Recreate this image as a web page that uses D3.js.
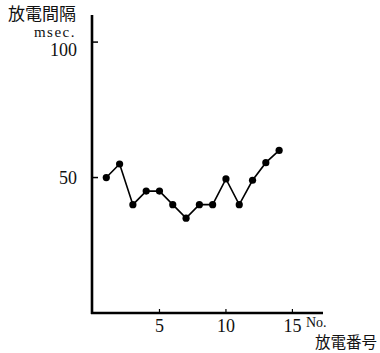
<!DOCTYPE html>
<html>
<head>
<meta charset="utf-8">
<script src="https://cdn.jsdelivr.net/npm/d3@7"></script>
<style>
  body { margin: 0; background: #fff; }
  text { fill: #111; }
  .num { font-family: "Liberation Serif", "DejaVu Serif", serif; font-size: 18px; }
  .jp { font-family: "Noto Sans CJK JP", sans-serif; font-size: 17px; }
</style>
</head>
<body>
<script>
// discharge number vs interval (msec)
var dischargeNo = [1, 2, 3, 4, 5, 6, 7, 8, 9, 10, 11, 12, 13, 14];
var intervalMs = [50, 55, 40, 45, 45, 40, 35, 40, 40, 49.5, 40, 49, 55.5, 60];
var xTicks = [5, 10, 15];
var yTicks = [50, 100];

var width = 380, height = 353;
var svg = d3.select("body").append("svg")
    .attr("width", width)
    .attr("height", height);

var x = d3.scaleLinear().domain([0, 17.3]).range([93, 323]);
var y = d3.scaleLinear().domain([0, 110]).range([313, 15]);

// axes lines
svg.append("line")
    .attr("x1", x(0) - 1).attr("x2", x(0) - 1)
    .attr("y1", y(110)).attr("y2", y(0) + 1)
    .attr("stroke", "#000").attr("stroke-width", 2.6);
svg.append("line")
    .attr("x1", x(0) - 2).attr("x2", x(17.3))
    .attr("y1", y(0)).attr("y2", y(0))
    .attr("stroke", "#000").attr("stroke-width", 2.4);

// y ticks + labels
svg.selectAll(".ytick").data(yTicks).enter().append("line")
    .attr("x1", x(0)).attr("x2", x(0) + 5)
    .attr("y1", function(d) { return y(d); })
    .attr("y2", function(d) { return y(d); })
    .attr("stroke", "#000").attr("stroke-width", 1.5);
svg.selectAll(".ylab").data(yTicks).enter().append("text")
    .attr("class", "num")
    .attr("x", 77)
    .attr("y", function(d) { return y(d) + (d === 100 ? 14 : 6); })
    .attr("text-anchor", "end")
    .text(function(d) { return d; });

// x ticks + labels
svg.selectAll(".xtick").data(xTicks).enter().append("line")
    .attr("x1", function(d) { return x(d); })
    .attr("x2", function(d) { return x(d); })
    .attr("y1", y(0)).attr("y2", y(0) - 4)
    .attr("stroke", "#000").attr("stroke-width", 1.2);
svg.selectAll(".xlab").data(xTicks).enter().append("text")
    .attr("class", "num")
    .attr("x", function(d) { return x(d); })
    .attr("y", 332)
    .attr("text-anchor", "middle")
    .text(function(d) { return d; });

// axis titles
svg.append("text").attr("class", "jp")
    .attr("x", 76).attr("y", 20).attr("text-anchor", "end")
    .text("放電間隔");
svg.append("text").attr("class", "num")
    .style("font-size", "15px")
    .style("letter-spacing", "1.5px")
    .attr("x", 76).attr("y", 37).attr("text-anchor", "end")
    .text("msec.");
svg.append("text").attr("class", "num")
    .style("font-size", "14px")
    .attr("x", 306).attr("y", 327)
    .text("No.");
svg.append("text").attr("class", "jp")
    .style("font-size", "15.5px")
    .attr("x", 377).attr("y", 348).attr("text-anchor", "end")
    .text("放電番号");

// line + dots
var line = d3.line()
    .x(function(d, i) { return x(dischargeNo[i]); })
    .y(function(d) { return y(d); });
svg.append("path")
    .datum(intervalMs)
    .attr("d", line)
    .attr("fill", "none")
    .attr("stroke", "#000")
    .attr("stroke-width", 1.6);
svg.selectAll(".dot").data(intervalMs).enter().append("circle")
    .attr("cx", function(d, i) { return x(dischargeNo[i]); })
    .attr("cy", function(d) { return y(d); })
    .attr("r", 3.6)
    .attr("fill", "#000");
</script>
</body>
</html>
